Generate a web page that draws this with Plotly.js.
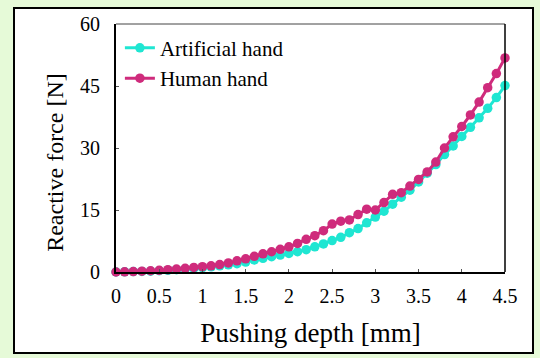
<!DOCTYPE html>
<html>
<head>
<meta charset="utf-8">
<script src="https://cdn.plot.ly/plotly-3.0.1.min.js"></script>
<style>
html,body{margin:0;padding:0;background:#e6fad8;width:540px;height:358px;overflow:hidden;}
#panel{position:absolute;left:13px;top:7px;width:517px;height:343px;border:2px solid #000;background:#fff;}
#chart{width:517px;height:343px;}
</style>
</head>
<body>
<div id="panel"><div id="chart"></div></div>
<script>
const depth = [0,0.1,0.2,0.3,0.4,0.5,0.6,0.7,0.8,0.9,1.0,1.1,1.2,1.3,1.4,1.5,1.6,1.7,1.8,1.9,2.0,2.1,2.2,2.3,2.4,2.5,2.6,2.7,2.8,2.9,3.0,3.1,3.2,3.3,3.4,3.5,3.6,3.7,3.8,3.9,4.0,4.1,4.2,4.3,4.4,4.5];
const artificialForce = [0,0.05,0.1,0.15,0.2,0.3,0.4,0.55,0.7,0.85,1.05,1.25,1.5,1.75,2.0,2.4,2.9,3.3,3.7,4.1,4.5,4.9,5.4,6.1,6.8,7.6,8.4,9.5,10.5,11.9,13.3,14.7,16.4,18.1,19.8,21.8,23.9,26.0,28.4,30.5,32.8,35.0,37.3,39.6,42.2,45.1];
const humanForce = [0,0.05,0.1,0.2,0.3,0.4,0.55,0.7,0.9,1.1,1.3,1.5,1.8,2.2,2.7,3.2,3.8,4.4,4.9,5.5,6.1,6.9,7.9,8.8,10.0,11.6,12.3,12.6,13.9,15.2,15.0,16.8,18.8,19.2,20.8,22.4,24.2,26.6,30.0,32.7,35.2,38.0,41.1,44.6,48.0,51.8];
const xTicks = [0,0.5,1,1.5,2,2.5,3,3.5,4,4.5];
const xTickText = ['0','0.5','1','1.5','2','2.5','3','3.5','4','4.5'];
const yTicks = [0,15,30,45,60];
const seriesNames = ['Artificial hand','Human hand'];
const xTitle = 'Pushing depth [mm]';
const yTitle = 'Reactive force [N]';

const cyan = '#1fe6d2';
const magenta = '#cf2b7c';
const font = '"Liberation Serif", "Times New Roman", Times, serif';

const traces = [
  {x: depth, y: artificialForce, name: seriesNames[0], type: 'scatter', mode: 'lines+markers',
   line: {color: cyan, width: 3}, marker: {color: cyan, size: 9.5}, cliponaxis: false},
  {x: depth, y: humanForce, name: seriesNames[1], type: 'scatter', mode: 'lines+markers',
   line: {color: magenta, width: 3}, marker: {color: magenta, size: 9.5}, cliponaxis: false}
];

const layout = {
  width: 517, height: 343,
  margin: {l: 101, r: 27, t: 15, b: 80},
  paper_bgcolor: '#ffffff', plot_bgcolor: '#ffffff',
  font: {family: font, color: '#000', size: 20},
  showlegend: true,
  legend: {x: 0.01, y: 0.985, xanchor: 'left', yanchor: 'top', bgcolor: 'rgba(0,0,0,0)',
           font: {family: font, size: 21, color: '#000'}, tracegroupgap: 0},
  xaxis: {range: [0, 4.5], tickvals: xTicks, ticktext: xTickText, ticks: 'inside', ticklen: 3,
          tickcolor: '#555', showgrid: false, zeroline: false, showline: true, linecolor: '#000', linewidth: 2,
          tickfont: {family: font, size: 20}, ticklabelstandoff: 5,
          title: {text: xTitle, font: {family: font, size: 27}, standoff: 17}},
  yaxis: {range: [0, 60], tickvals: yTicks, ticks: 'inside', ticklen: 3, tickcolor: '#555',
          showgrid: false, zeroline: false, showline: true, linecolor: '#000', linewidth: 2,
          tickfont: {family: font, size: 20}, ticklabelstandoff: 10},
  annotations: [
    {text: yTitle, xref: 'paper', yref: 'paper', x: -0.157, y: 0.444, xanchor: 'center', yanchor: 'middle',
     textangle: -90, showarrow: false, font: {family: font, size: 24, color: '#000'}}
  ],
  shapes: [
    {type: 'line', xref: 'paper', yref: 'paper', x0: 0, x1: 1, y0: 1, y1: 1, line: {color: '#444', width: 1}},
    {type: 'line', xref: 'paper', yref: 'paper', x0: 1, x1: 1, y0: 0, y1: 1, line: {color: '#000', width: 1.5}}
  ]
};

Plotly.newPlot('chart', traces, layout, {displayModeBar: false, staticPlot: true});
</script>
</body>
</html>
